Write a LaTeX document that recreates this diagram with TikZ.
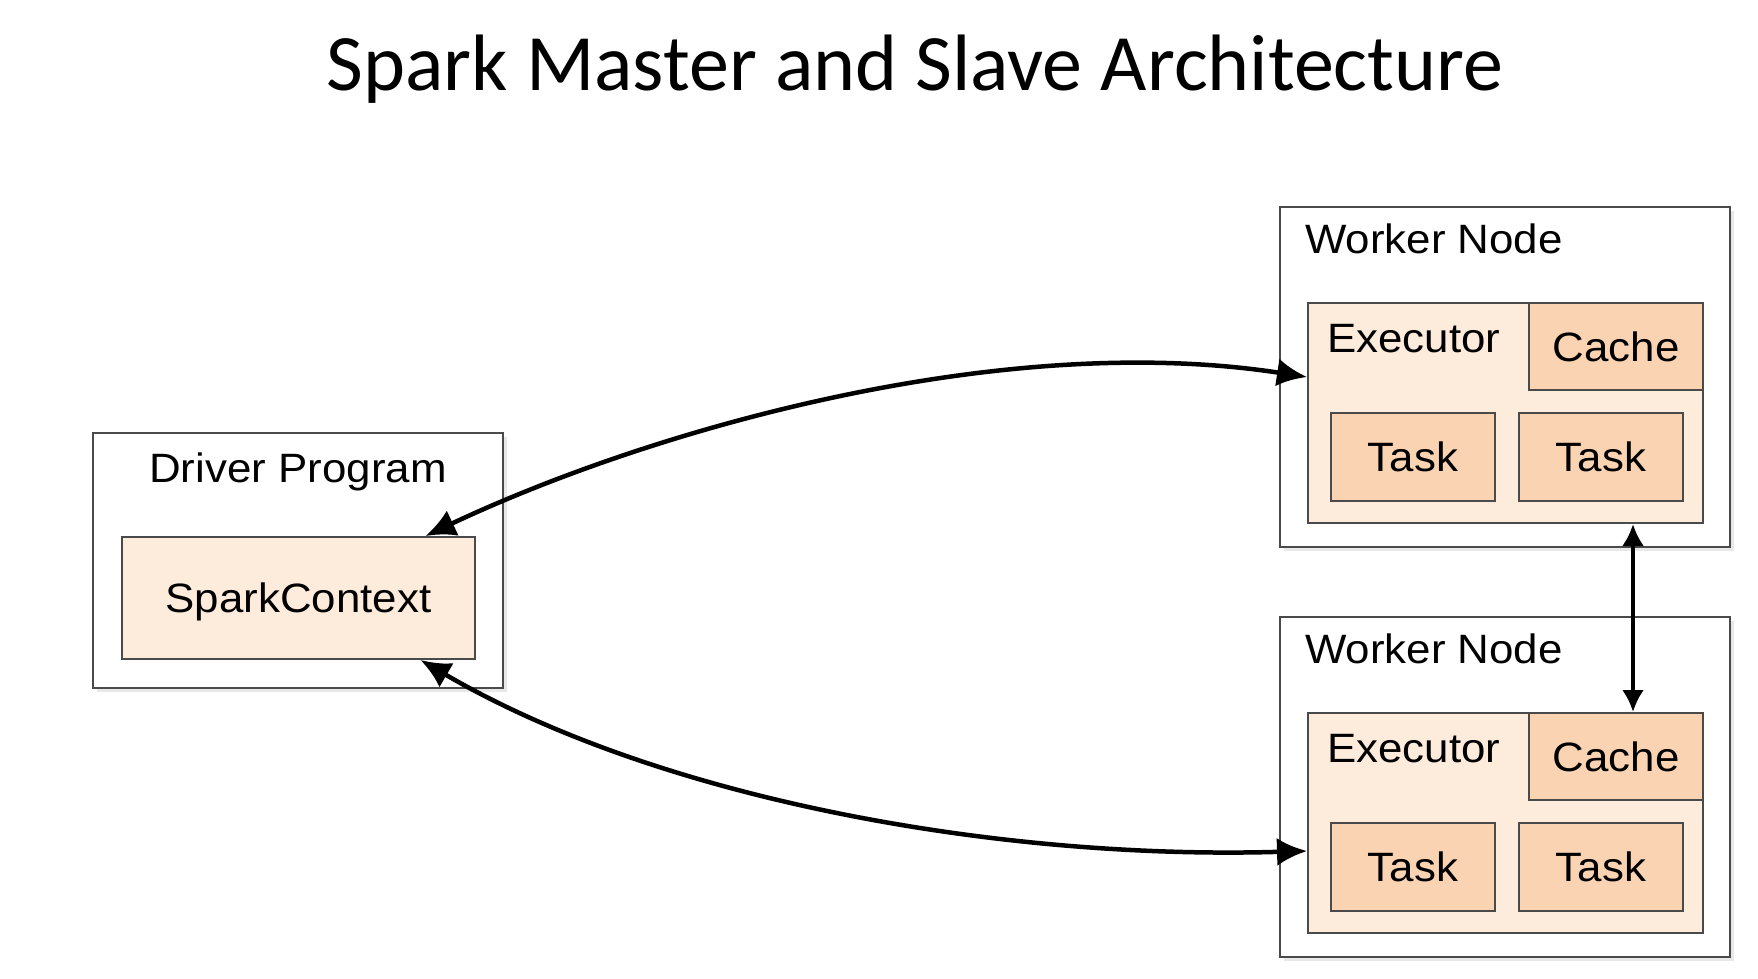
\documentclass[tikz,border=0pt]{standalone}
\usepackage{fontspec}
\setsansfont[FakeStretch=1.07]{Liberation Sans}
\newfontfamily\titlefont{Carlito}
\usetikzlibrary{arrows.meta,shadows}
\definecolor{execfill}{HTML}{FDEBDC}
\definecolor{taskfill}{HTML}{FAD3B2}
\definecolor{boxline}{HTML}{4A4A4A}

\begin{document}
\begin{tikzpicture}[x=1pt,y=-1pt,font=\sffamily\fontsize{41}{49}\selectfont,>={Latex[length=30pt,width=28pt]}]
% Box styles: white frames and filled inner boxes
\tikzstyle{frame node}=[draw=boxline,line width=2.5pt,fill=white,inner sep=0,drop shadow={shadow xshift=4pt,shadow yshift=-4pt,opacity=.18}];
\tikzstyle{exec node}=[draw=boxline,line width=2pt,fill=execfill,inner sep=0];
\tikzstyle{task node}=[draw=boxline,line width=2pt,fill=taskfill,inner sep=0,text height=29pt,text depth=0pt];
\tikzstyle{label node}=[anchor=base west,inner sep=0];
\tikzstyle{link}=[<->,line width=4.5pt];
\useasboundingbox (0,0) rectangle (1758,978);
% Title
\node[anchor=base,inner sep=0,font=\titlefont\fontsize{80}{96}\selectfont] (title) at (915,90) {Spark Master and Slave Architecture};
% Driver
\node[frame node,minimum width=410pt,minimum height=255pt] (drv) at (298,560.5) {};
\node[label node,anchor=base] (dl) at (298,482) {Driver Program};
\node[exec node,text height=29pt,text depth=0pt,minimum width=353pt,minimum height=122pt] (sc) at (298.5,598) {SparkContext};
% Worker nodes
\foreach \i/\dy in {1/0,2/410}{
\node[frame node,minimum width=450pt,minimum height=340pt] (w\i) at (1505,{377+\dy}) {};
\node[label node] (wl\i) at (1305,{253+\dy}) {Worker Node};
\node[exec node,minimum width=395pt,minimum height=220pt] (ex\i) at (1505.5,{413+\dy}) {};
\node[label node] (el\i) at (1327,{352+\dy}) {Executor};
\node[task node,minimum width=174pt,minimum height=87pt] (c\i) at (1616,{346.5+\dy}) {Cache};
\node[task node,minimum width=164pt,minimum height=88pt] (t\i1) at (1413,{457+\dy}) {Task};
\node[task node,minimum width=164pt,minimum height=88pt] (t\i2) at (1601,{457+\dy}) {Task};
}
% Links
\draw[link] ([yshift=36pt]ex1.west) .. controls (1000,330) and (650,430) .. ([xshift=127pt]sc.north);
\draw[link] ([yshift=-28pt]ex2.west) .. controls (1000,860) and (660,800) .. ([xshift=122pt]sc.south);
\draw[link,line width=4pt,>={Latex[length=22pt,width=22pt]}] ([xshift=17pt]c2.north |- ex1.south) -- ([xshift=17pt]c2.north);
\end{tikzpicture}
\end{document}
